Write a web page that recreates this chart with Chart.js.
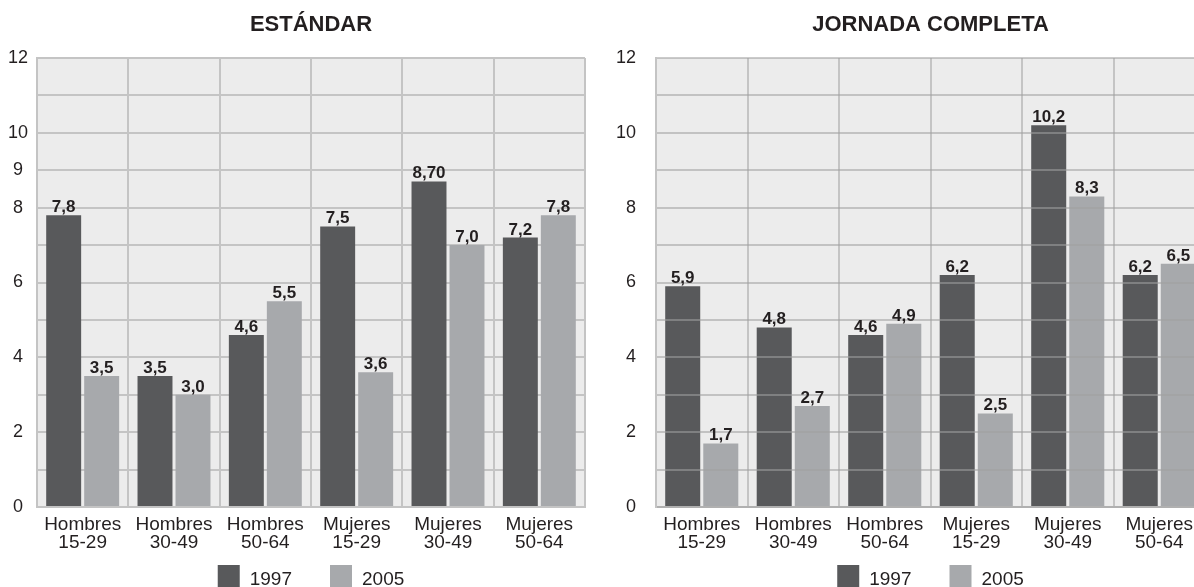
<!DOCTYPE html>
<html>
<head>
<meta charset="utf-8">
<script src="https://cdn.jsdelivr.net/npm/chart.js@4.4.1/dist/chart.umd.min.js"></script>
<style>
html,body{margin:0;padding:0;background:#fff;overflow:hidden;width:1194px;height:587px;}
#wrap{position:relative;width:1220px;height:587px;}
canvas{position:absolute;top:0;}
#c1{left:0;}
#c2{left:600px;}
</style>
</head>
<body>
<div id="wrap">
<canvas id="c1" width="595" height="587"></canvas>
<canvas id="c2" width="615" height="587"></canvas>
</div>
<script>
// data
const groups=[['Hombres','15-29'],['Hombres','30-49'],['Hombres','50-64'],['Mujeres','15-29'],['Mujeres','30-49'],['Mujeres','50-64']];
const seriesNames=['1997','2005'];
const estandar1997=[7.8,3.5,4.6,7.5,8.7,7.2];
const estandar2005=[3.5,3.0,5.5,3.6,7.0,7.8];
const jornada1997=[5.9,4.8,4.6,6.2,10.2,6.2];
const jornada2005=[1.7,2.7,4.9,2.5,8.3,6.5];
const estandarTicks=[0,2,4,6,8,9,10,12];
const jornadaTicks=[0,2,4,6,8,10,12];

const fmt=v=>v.toFixed(1).replace('.',',');
let estandar1997Text=estandar1997.map(fmt); estandar1997Text[4]='8,70';

const FONT="'Liberation Sans','Arial',sans-serif";
const TXT='#231f20', DARK='#58595b', LIGHT='#a7a9ac';

// plot background
const plotBg={id:'plotBg',beforeDraw(c){
  let a=c.chartArea, ctx=c.ctx;
  ctx.save(); ctx.fillStyle='#ececec'; ctx.fillRect(a.left,a.top,a.right-a.left,a.bottom-a.top); ctx.restore();
}};

// value labels on top of bars
const barLabels={id:'barLabels',afterDraw(c){
  let ctx=c.ctx; ctx.save();
  ctx.font='bold 17px '+FONT; ctx.fillStyle=TXT; ctx.textAlign='center'; ctx.textBaseline='alphabetic';
  c.data.datasets.forEach((ds,i)=>{
    c.getDatasetMeta(i).data.forEach((bar,j)=>ctx.fillText(ds.texts[j],bar.x,bar.y-3));
  });
  ctx.restore();
}};

// legend under the axis, centered on the plot
const bottomLegend={id:'bottomLegend',afterDraw(c){
  let ctx=c.ctx, a=c.chartArea; ctx.save();
  ctx.font='19px '+FONT; ctx.textBaseline='alphabetic';
  let box=22, gap=10, sep=38;
  let items=c.data.datasets.map(ds=>({t:ds.label,col:ds.backgroundColor,w:ctx.measureText(ds.label).width}));
  let total=items.reduce((s,it)=>s+box+gap+it.w,0)+sep*(items.length-1);
  let x=(a.left+a.right)/2-total/2;
  items.forEach(it=>{
    ctx.fillStyle=it.col; ctx.fillRect(x,565,box,box);
    ctx.fillStyle=TXT; ctx.fillText(it.t,x+box+gap,585);
    x+=box+gap+it.w+sep;
  });
  ctx.restore();
}};

function makeChart(id,title,d1,d2,t1,ticks,opt){
  return new Chart(document.getElementById(id),{
    type:'bar',
    data:{
      labels:groups,
      datasets:[
        {label:seriesNames[0],data:d1,texts:t1,backgroundColor:DARK},
        {label:seriesNames[1],data:d2,texts:d2.map(fmt),backgroundColor:LIGHT}
      ]
    },
    options:{
      responsive:false, animation:false,
      layout:{padding:{left:0,right:10,top:0,bottom:0}},
      datasets:{bar:{categoryPercentage:0.832,barPercentage:0.92}},
      plugins:{
        legend:{display:false}, tooltip:{enabled:false},
        title:{display:true,text:title,fullSize:false,color:TXT,font:{family:FONT,size:22,weight:'bold',lineHeight:1.2},padding:{top:12,bottom:19.6}}
      },
      scales:{
        x:{
          grid:{offset:true,color:'#c4c4c4',lineWidth:2,drawTicks:false},
          border:{color:'#c4c4c4',width:2},
          ticks:{color:TXT,padding:9,font:{family:FONT,size:19,lineHeight:0.95},maxRotation:0,autoSkip:false},
          afterFit(s){s.height=80;}
        },
        y:{
          min:0,max:12,
          grid:{color:opt.gridColor,lineWidth:2,drawTicks:false,z:opt.gridZ},
          border:{color:'#c4c4c4',width:2,z:opt.gridZ},
          ticks:{stepSize:1,autoSkip:false,color:TXT,padding:opt.pad,crossAlign:opt.align,font:{family:FONT,size:18},
            callback:v=>ticks.includes(v)?String(v):''},
          afterFit(s){s.width=opt.yw;}
        }
      }
    },
    plugins:[plotBg,barLabels,bottomLegend]
  });
}

makeChart('c1','ESTÁNDAR',estandar1997,estandar2005,estandar1997Text,estandarTicks,
  {yw:37,pad:9,align:'center',gridColor:'#c4c4c4',gridZ:0});
makeChart('c2','JORNADA COMPLETA',jornada1997,jornada2005,jornada1997.map(fmt),jornadaTicks,
  {yw:56,pad:20,align:'near',gridColor:'rgba(160,160,160,0.55)',gridZ:1});
</script>
</body>
</html>
